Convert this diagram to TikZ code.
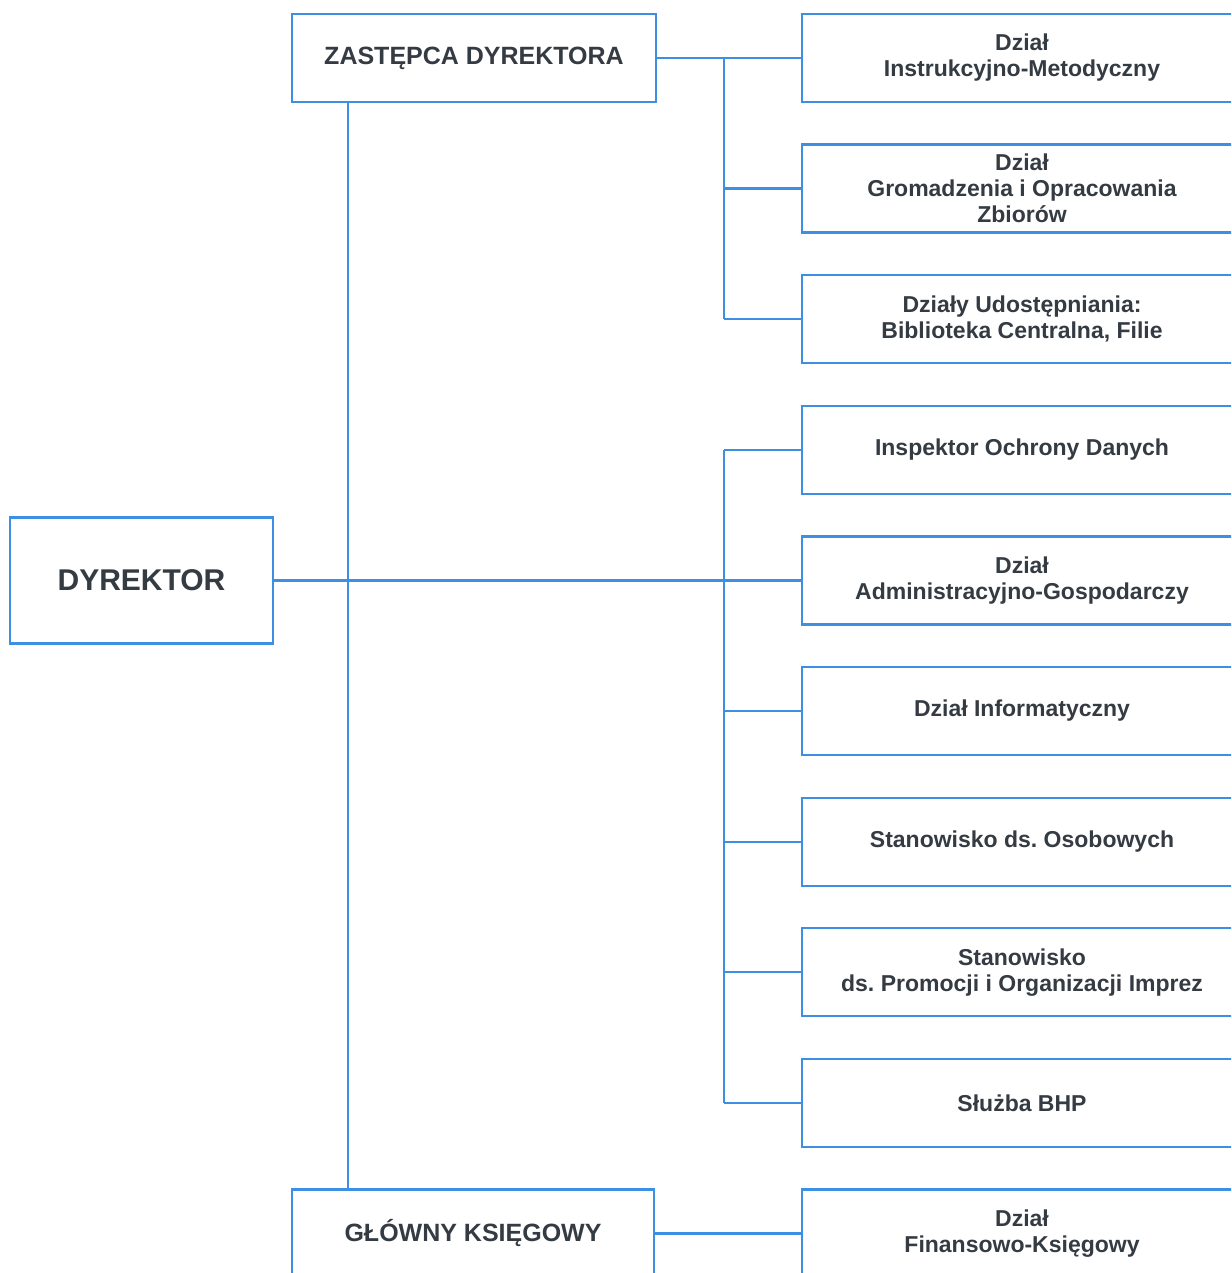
\documentclass[tikz,border=0pt]{standalone}
\usepackage{fontspec}
\setmainfont{Liberation Sans}
\frenchspacing
\definecolor{lineblue}{HTML}{3C8FE2}
\definecolor{txt}{HTML}{343B42}
\begin{document}
\begin{tikzpicture}[x=1pt,y=-1pt,
  conn/.style={draw=lineblue,line width=2.2pt},
  bx/.style={draw=lineblue,line width=2.2pt,fill=white,inner sep=0pt,text=txt,align=center},
  rbox/.style={bx,minimum width=440pt,minimum height=88pt,font=\fontsize{23}{26}\selectfont\bfseries},
  head/.style={bx,minimum width=364pt,minimum height=88pt,font=\fontsize{25}{30}\selectfont\bfseries}]
\useasboundingbox (0,0) rectangle (1231,1273);
\clip (0,0) rectangle (1231,1273);
\fill[white] (0,0) rectangle (1231,1273);
% coordinates for spines
\coordinate (tx) at (348,0);
\coordinate (sx) at (724,0);
% right column
\node[rbox] (r1) at (1022,58) {Dział\\Instrukcyjno-Metodyczny};
\node[rbox] (r2) at (1022,188.6) {Dział\\Gromadzenia i Opracowania\\Zbiorów};
\node[rbox] (r3) at (1022,319.2) {Działy Udostępniania:\\Biblioteka Centralna, Filie};
\node[rbox] (r4) at (1022,449.8) {Inspektor Ochrony Danych};
\node[rbox] (r5) at (1022,580.4) {Dział\\Administracyjno-Gospodarczy};
\node[rbox] (r6) at (1022,711) {Dział Informatyczny};
\node[rbox] (r7) at (1022,841.6) {Stanowisko ds. Osobowych};
\node[rbox] (r8) at (1022,972.2) {Stanowisko\\ds. Promocji i Organizacji Imprez};
\node[rbox] (r9) at (1022,1102.8) {Służba BHP};
\node[rbox] (r10) at (1022,1233.4) {Dział\\Finansowo-Księgowy};
% left column
\node[head] (zas) at (474,58) {ZASTĘPCA DYREKTORA};
\node[head,minimum width=362pt] (gk) at (473,1233.4) {GŁÓWNY KSIĘGOWY};
\node[bx,minimum width=263pt,minimum height=126pt,font=\fontsize{30}{36}\selectfont\bfseries] (dyr) at (141.5,580.4) {DYREKTOR};
% connectors
\draw[conn] (zas.south -| tx) -- (gk.north -| tx);
\draw[conn] (dyr.east) -- (r5.west);
\draw[conn] (zas.east) -- (r1.west);
\draw[conn] (r1.west -| sx) -- (r3.west -| sx);
\draw[conn] (r2.west -| sx) -- (r2.west);
\draw[conn] (r3.west -| sx) -- (r3.west);
\draw[conn] (r4.west -| sx) -- (r9.west -| sx);
\draw[conn] (r4.west -| sx) -- (r4.west);
\draw[conn] (r6.west -| sx) -- (r6.west);
\draw[conn] (r7.west -| sx) -- (r7.west);
\draw[conn] (r8.west -| sx) -- (r8.west);
\draw[conn] (r9.west -| sx) -- (r9.west);
\draw[conn] (gk.east) -- (r10.west);
\end{tikzpicture}
\end{document}
